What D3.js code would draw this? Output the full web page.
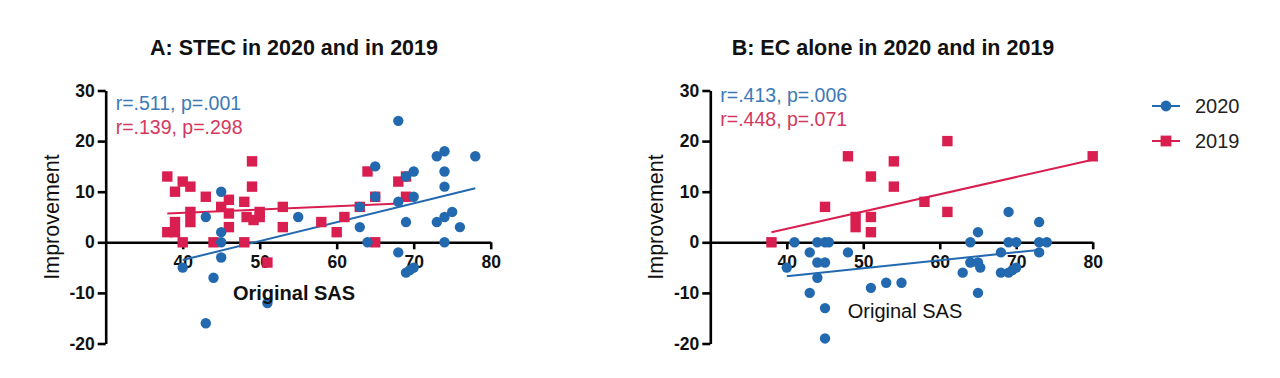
<!DOCTYPE html>
<html>
<head>
<meta charset="utf-8">
<script src="https://cdn.jsdelivr.net/npm/d3@7"></script>
<style>
  html, body { margin: 0; padding: 0; background: #fff; }
  svg { display: block; font-family: "Liberation Sans", Arial, sans-serif; }
</style>
</head>
<body>
<svg id="chart" width="1280" height="378"></svg>
<script>
// ---------- data ----------
const xTicks = [40, 50, 60, 70, 80];
const yTicks = [-20, -10, 0, 10, 20, 30];
const seriesNames = ["2020", "2019"];
const titles = ["A: STEC in 2020 and in 2019", "B: EC alone in 2020 and in 2019"];
const statsA = ["r=.511, p=.001", "r=.139, p=.298"];
const statsB = ["r=.413, p=.006", "r=.448, p=.071"];

// Panel A: STEC, [Original SAS, Improvement]
const a2020 = [[45,10],[43,5],[45,2],[45,0],[45,-3],[40,-5],[44,-7],[43,-16],[51,-12],[55,5],
  [68,24],[73,17],[74,18],[78,17],[65,15],[70,14],[69,13],[74,14],[74,11],[65,9],[70,9],[68,8],
  [63,7],[69,4],[73,4],[74,5],[75,6],[76,3],[63,3],[64,0],[74,0],[68,-2],[70,-5],[69,-6],[69.5,-5.5]];
const a2019 = [[38,13],[40,12],[39,10],[41,11],[43,9],[49,16],[49,11],[48,8],[46,8.4],[45,7],
  [46,5.7],[41,6],[41,4],[39,4],[38,2],[39,2],[40,0],[44,0],[46,3],[48,0],[48.3,5],[49.2,4.4],
  [50,5],[50,6],[53,7],[53,3],[51,-4],[64,14],[65,9],[58,4],[60,2],[61,5],[63,7],[65,0],
  [68,12],[69,13],[69,9]];
const fitA2020 = [[40,-3.5],[78,10.7]];
const fitA2019 = [[38,5.7],[67.5,7.6]];

// Panel B: EC alone
const b2020 = [[41,0],[44,0],[45,0],[45.5,0],[43,-2],[40,-5],[44,-4],[45,-4],[44,-7],[43,-10],
  [45,-13],[45,-19],[48,-2],[51,-9],[53,-8],[55,-8],[65,2],[64,0],[64,-4],[65,-4],[65.3,-5],
  [63,-6],[65,-10],[69,6],[68,-2],[69,0],[70,0],[68,-6],[69,-6],[69.5,-5.5],[70,-5],[73,4],
  [73,0],[74,0],[73,-2]];
const b2019 = [[38,0],[45,7],[48,17],[49,5],[49,3],[51,13],[51,5],[51,2],[54,16],[54,11],
  [61,20],[58,8],[61,6],[80,17]];
const fitB2020 = [[40,-6.7],[73,-1.5]];
const fitB2019 = [[38,2.0],[80,16.3]];

// ---------- style ----------
const BLUE = "#2369b0", RED = "#d81f4f";
const BLUE_T = "#3b79b8", RED_T = "#d4385c";

const svg = d3.select("#chart");

function panel(opts) {
  const x = d3.scaleLinear().domain([30, 80]).range([opts.x0, opts.x1]);
  const y = d3.scaleLinear().domain([-20, 30]).range([343.5, 90.5]);
  const g = svg.append("g");

  // axes
  const fmt = d => String(d);
  const yAx = g.append("g").attr("transform", `translate(${opts.x0},0)`)
    .call(d3.axisLeft(y).tickValues(yTicks).tickSize(8).tickSizeOuter(0).tickPadding(3).tickFormat(fmt));
  const xAx = g.append("g").attr("transform", `translate(0,${y(0)})`)
    .call(d3.axisBottom(x).tickValues(xTicks).tickSize(7).tickSizeOuter(0).tickPadding(6).tickFormat(fmt));
  [yAx, xAx].forEach(a => {
    a.selectAll("path, line").attr("stroke", "#000").attr("stroke-width", 2.6);
    a.selectAll("text").attr("fill", "#111").attr("font-size", 17.5).attr("font-weight", "bold")
      .attr("font-family", "'Liberation Sans', Arial, sans-serif");
  });

  // fit lines
  const line = d3.line().x(d => x(d[0])).y(d => y(d[1]));
  g.append("path").datum(opts.fit2019).attr("d", line).attr("stroke", RED).attr("stroke-width", 2).attr("fill", "none");
  g.append("path").datum(opts.fit2020).attr("d", line).attr("stroke", BLUE).attr("stroke-width", 2).attr("fill", "none");

  // points: 2019 squares, 2020 circles
  const s = 10.4;
  g.selectAll(".sq").data(opts.d2019).join("rect")
    .attr("x", d => x(d[0]) - s / 2).attr("y", d => y(d[1]) - s / 2)
    .attr("width", s).attr("height", s).attr("fill", RED);
  g.selectAll(".ci").data(opts.d2020).join("circle")
    .attr("cx", d => x(d[0])).attr("cy", d => y(d[1])).attr("r", 5.2).attr("fill", BLUE);

  // title
  g.append("text").attr("x", opts.titleX).attr("y", 55).attr("text-anchor", "middle")
    .attr("font-size", 21.5).attr("font-weight", "bold").attr("fill", "#111").text(opts.title);

  // y label
  g.append("text").attr("transform", `translate(${opts.ylabX},217) rotate(-90)`)
    .attr("text-anchor", "middle").attr("font-size", 21.5).attr("fill", "#111").text("Improvement");

  // x label
  g.append("text").attr("x", opts.xlabX).attr("y", opts.xlabY).attr("text-anchor", "middle")
    .attr("font-size", 20).attr("font-weight", opts.xlabBold ? "bold" : "normal").attr("fill", "#111").text("Original SAS");

  // stats
  g.append("text").attr("x", opts.x0 + 10).attr("y", opts.statY).attr("font-size", 19.5).attr("fill", BLUE_T).text(opts.stats[0]);
  g.append("text").attr("x", opts.x0 + 10).attr("y", opts.statY + 24).attr("font-size", 19.5).attr("fill", RED_T).text(opts.stats[1]);
}

panel({ x0: 105.7, x1: 490.7, d2020: a2020, d2019: a2019, fit2020: fitA2020, fit2019: fitA2019,
  title: titles[0], titleX: 294, ylabX: 59, xlabX: 294, xlabY: 300, xlabBold: true, stats: statsA, statY: 110 });
panel({ x0: 710.3, x1: 1092.7, d2020: b2020, d2019: b2019, fit2020: fitB2020, fit2019: fitB2019,
  title: titles[1], titleX: 893, ylabX: 663, xlabX: 905, xlabY: 318, xlabBold: false, stats: statsB, statY: 102 });

// legend
const legend = svg.append("g");
const legItems = [{ name: seriesNames[0], color: BLUE, shape: "circle", y: 106 },
                  { name: seriesNames[1], color: RED, shape: "square", y: 141 }];
legItems.forEach(it => {
  legend.append("line").attr("x1", 1152).attr("x2", 1180).attr("y1", it.y).attr("y2", it.y)
    .attr("stroke", it.color).attr("stroke-width", 2);
  if (it.shape === "circle") {
    legend.append("circle").attr("cx", 1166).attr("cy", it.y).attr("r", 5.4).attr("fill", it.color);
  } else {
    legend.append("rect").attr("x", 1166 - 5.4).attr("y", it.y - 5.4).attr("width", 10.8).attr("height", 10.8).attr("fill", it.color);
  }
  legend.append("text").attr("x", 1195).attr("y", it.y + 7).attr("font-size", 20).attr("fill", "#222").text(it.name);
});
</script>
</body>
</html>
